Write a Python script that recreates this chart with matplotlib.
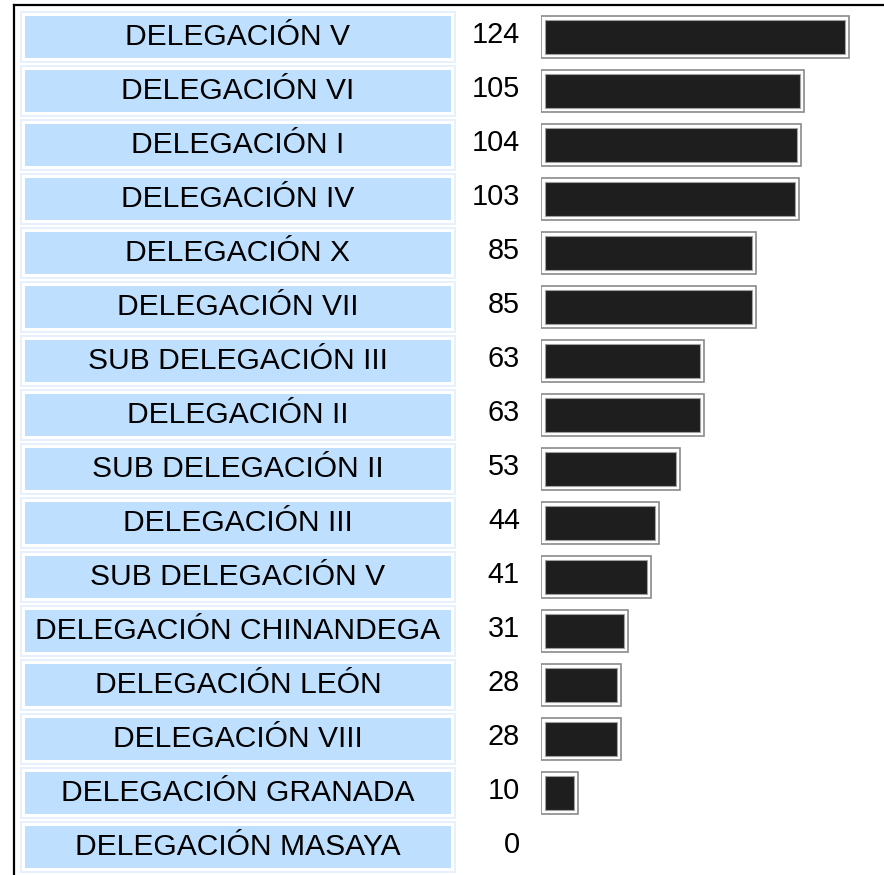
import matplotlib.pyplot as plt
from matplotlib.lines import Line2D
import numpy as np

# data
categories = [
    "DELEGACIÓN V", "DELEGACIÓN VI", "DELEGACIÓN I", "DELEGACIÓN IV",
    "DELEGACIÓN X", "DELEGACIÓN VII", "SUB DELEGACIÓN III", "DELEGACIÓN II",
    "SUB DELEGACIÓN II", "DELEGACIÓN III", "SUB DELEGACIÓN V",
    "DELEGACIÓN CHINANDEGA", "DELEGACIÓN LEÓN", "DELEGACIÓN VIII",
    "DELEGACIÓN GRANADA", "DELEGACIÓN MASAYA",
]
values = [124, 105, 104, 103, 85, 85, 63, 63, 53, 44, 41, 31, 28, 28, 10, 0]

plt.rcParams['font.family'] = ['Liberation Sans', 'DejaVu Sans']

W, H = 884, 875
fig = plt.figure(figsize=(W / 100, H / 100), dpi=100)
fig.patch.set_facecolor('white')

rows = np.arange(len(categories))
row_px = 54.0
first_px = 37.0
ylim = ((H - first_px) / row_px, -first_px / row_px)

px_per_unit = 2.377

# label cells
lab_left, lab_right = 25, 451
ax_lab = fig.add_axes([lab_left / W, 0, (lab_right - lab_left) / W, 1])
ax_lab.set_xlim(0, 1)
ax_lab.set_ylim(*ylim)
ax_lab.axis('off')
pad = 4 / (lab_right - lab_left)
ax_lab.barh(rows, 1 + 2 * pad, left=-pad, height=50 / row_px,
            color='none', edgecolor='#e2effd', linewidth=1.2, clip_on=False)
ax_lab.barh(rows, 1, left=0, height=42 / row_px, color='#bfdfff',
            edgecolor='none', clip_on=False)
for y, name in zip(rows, categories):
    ax_lab.text(0.5, y + 8 / row_px, name, ha='center', va='baseline',
                fontsize=21.6, color='black')

# bars
bar_left = 541
ax_bar = fig.add_axes([bar_left / W, 0, (W - bar_left) / W, 1])
ax_bar.set_xlim(0, (W - bar_left) / px_per_unit)
ax_bar.set_ylim(*ylim)
ax_bar.axis('off')

vals = np.array(values, dtype=float)
shown = vals > 0
ax_bar.barh(rows[shown], vals[shown] + 13 / px_per_unit, left=0,
            height=42 / row_px, color='white', edgecolor='#8a8a8a',
            linewidth=1.2)
ax_bar.barh(rows[shown], vals[shown] + 5 / px_per_unit, left=4 / px_per_unit,
            height=34 / row_px, color='#1e1e1e', edgecolor='#a0a0a0',
            linewidth=0.8)

num_x = (520 - bar_left) / px_per_unit
for y, v in zip(rows, values):
    ax_bar.text(num_x, y + 6.3 / row_px, f"{v}", ha='right', va='baseline',
                fontsize=20.8, color='black', clip_on=False)

# outer frame (left and top edges)
fx = 14 / W
fy = 1 - 5 / H
fig.add_artist(Line2D([fx, fx], [0, fy], color='black', linewidth=1.6,
                      transform=fig.transFigure))
fig.add_artist(Line2D([fx, 1], [fy, fy], color='black', linewidth=1.6,
                      transform=fig.transFigure))

fig.savefig('out.png', dpi=100)
